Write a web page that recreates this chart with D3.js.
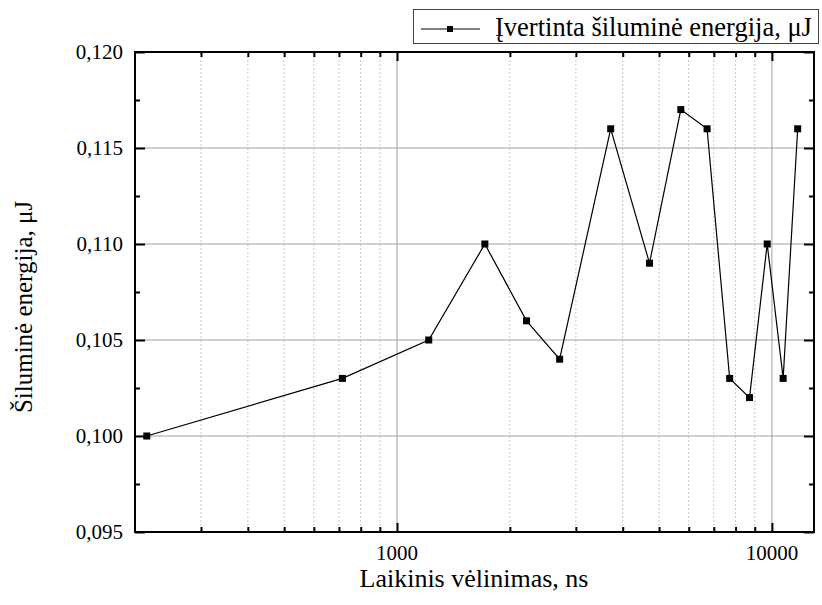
<!DOCTYPE html>
<html>
<head>
<meta charset="utf-8">
<script src="https://cdn.jsdelivr.net/npm/d3@7"></script>
<style>
  html, body { margin: 0; padding: 0; background: #fff; }
</style>
</head>
<body>
<svg id="chart" width="822" height="605"></svg>
<script>
// ---- data ----
const delays = [215, 715, 1215, 1715, 2215, 2715, 3715, 4715, 5715, 6715, 7715, 8715, 9715, 10715, 11715];
const energies = [0.100, 0.103, 0.105, 0.110, 0.106, 0.104, 0.116, 0.109, 0.117, 0.116, 0.103, 0.102, 0.110, 0.103, 0.116];
const xMajorTicks = [1000, 10000];
const xMinorTicks = [300, 400, 500, 600, 700, 800, 900, 2000, 3000, 4000, 5000, 6000, 7000, 8000, 9000];
const yMajorTicks = [0.095, 0.100, 0.105, 0.110, 0.115, 0.120];
const yMinorTicks = [0.0975, 0.1025, 0.1075, 0.1125, 0.1175];
const seriesName = "Įvertinta šiluminė energija, μJ";
const xTitle = "Laikinis vėlinimas, ns";
const yTitle = "Šiluminė energija, μJ";

// ---- layout ----
const FONT = "Liberation Serif";
const L = 135, R = 814, T = 52, B = 532;
const svg = d3.select("#chart");
const x = d3.scaleLog().domain([200, 12950]).range([L, R]);
const y = d3.scaleLinear().domain([0.095, 0.120]).range([B, T]);
const loc = d3.formatLocale({decimal: ",", thousands: "", grouping: [3], currency: ["", ""]});
const fy = loc.format(".3f");
const fx = d3.format("d");

// grid: minor vertical dotted
svg.append("g").selectAll("line").data(xMinorTicks).join("line")
  .attr("x1", d => x(d)).attr("x2", d => x(d)).attr("y1", T).attr("y2", B)
  .attr("stroke", "#c8c8c8").attr("stroke-width", 1).attr("stroke-dasharray", "2,2");
// grid: major vertical
svg.append("g").selectAll("line").data(xMajorTicks).join("line")
  .attr("x1", d => x(d)).attr("x2", d => x(d)).attr("y1", T).attr("y2", B)
  .attr("stroke", "#a0a0a0").attr("stroke-width", 1);
// grid: major horizontal
svg.append("g").selectAll("line").data(yMajorTicks.filter(d => d > 0.0951 && d < 0.1199)).join("line")
  .attr("x1", L).attr("x2", R).attr("y1", d => y(d)).attr("y2", d => y(d))
  .attr("stroke", "#a0a0a0").attr("stroke-width", 1);

// axes helper (tick marks only)
function styleAxis(g) {
  g.select(".domain").remove();
  g.selectAll(".tick line").attr("stroke", "#000").attr("stroke-width", 2);
  g.selectAll(".tick text").remove();
}
const axes = [
  [d3.axisBottom(x).tickValues(xMajorTicks).tickSize(-9), `translate(0,${B})`],
  [d3.axisBottom(x).tickValues(xMinorTicks).tickSize(-5), `translate(0,${B})`],
  [d3.axisTop(x).tickValues(xMajorTicks).tickSize(-9), `translate(0,${T})`],
  [d3.axisTop(x).tickValues(xMinorTicks).tickSize(-5), `translate(0,${T})`],
  [d3.axisLeft(y).tickValues(yMajorTicks).tickSize(-10), `translate(${L},0)`],
  [d3.axisLeft(y).tickValues(yMinorTicks).tickSize(-5), `translate(${L},0)`],
  [d3.axisRight(y).tickValues(yMajorTicks).tickSize(-10), `translate(${R},0)`],
  [d3.axisRight(y).tickValues(yMinorTicks).tickSize(-5), `translate(${R},0)`]
];
axes.forEach(([ax, tr]) => svg.append("g").attr("transform", tr).call(ax.tickFormat("")).call(styleAxis));

// tick labels
svg.append("g").selectAll("text").data(xMajorTicks).join("text")
  .attr("x", d => x(d)).attr("y", 560).attr("text-anchor", "middle")
  .style("font-family", FONT).attr("font-size", 21).attr("fill", "#000").text(d => fx(d));
svg.append("g").selectAll("text").data(yMajorTicks).join("text")
  .attr("x", L - 12).attr("y", d => y(d) + 7).attr("text-anchor", "end")
  .style("font-family", FONT).attr("font-size", 21).attr("fill", "#000").text(d => fy(d));

// frame
svg.append("rect").attr("x", L).attr("y", T).attr("width", R - L).attr("height", B - T)
  .attr("fill", "none").attr("stroke", "#000").attr("stroke-width", 2);

// series
const pts = delays.map((d, i) => [d, energies[i]]);
svg.append("path").datum(pts)
  .attr("d", d3.line().x(d => x(d[0])).y(d => y(d[1])))
  .attr("fill", "none").attr("stroke", "#000").attr("stroke-width", 1.2);
svg.append("g").selectAll("rect").data(pts).join("rect")
  .attr("x", d => x(d[0]) - 3.5).attr("y", d => y(d[1]) - 3.5)
  .attr("width", 7).attr("height", 7).attr("fill", "#000");

// axis titles
svg.append("text").attr("x", 474).attr("y", 587).attr("text-anchor", "middle")
  .style("font-family", FONT).attr("font-size", 26).attr("fill", "#000").text(xTitle);
svg.append("text").attr("transform", "translate(32,307) rotate(-90)").attr("text-anchor", "middle")
  .style("font-family", FONT).attr("font-size", 25).attr("fill", "#000").text(yTitle);

// legend
const lg = svg.append("g");
lg.append("rect").attr("x", 413.5).attr("y", 9.5).attr("width", 405).attr("height", 34)
  .attr("fill", "#fff").attr("stroke", "#444").attr("stroke-width", 1);
lg.append("line").attr("x1", 421).attr("x2", 480).attr("y1", 29).attr("y2", 29)
  .attr("stroke", "#000").attr("stroke-width", 1.2);
lg.append("rect").attr("x", 447).attr("y", 26).attr("width", 6).attr("height", 6).attr("fill", "#000");
lg.append("text").attr("x", 495).attr("y", 36).style("font-family", FONT).attr("font-size", 26.5)
  .attr("fill", "#000").text(seriesName);
</script>
</body>
</html>
